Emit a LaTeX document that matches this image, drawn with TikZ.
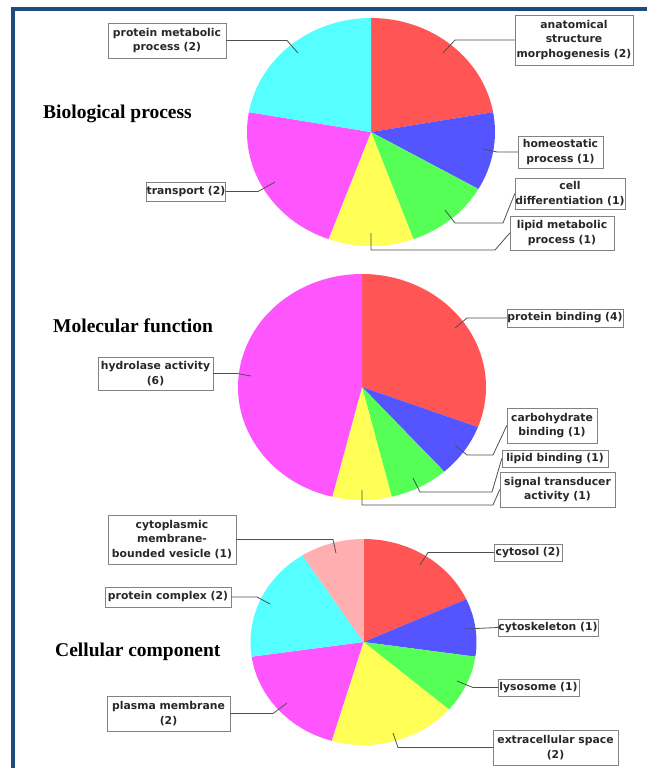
\documentclass[tikz,border=0pt]{standalone}
\usepackage{fontspec}
\setmainfont{Liberation Serif}
\newfontfamily\lblfont{DejaVu Sans}
\usetikzlibrary{shadows}
\definecolor{frameblue}{RGB}{30,75,125}
\definecolor{pRed}{HTML}{FF5555}
\definecolor{pBlue}{HTML}{5555FF}
\definecolor{pGreen}{HTML}{55FF55}
\definecolor{pYellow}{HTML}{FFFF55}
\definecolor{pMagenta}{HTML}{FF55FF}
\definecolor{pCyan}{HTML}{55FFFF}
\definecolor{pPink}{HTML}{FFAFAF}
\definecolor{boxgray}{RGB}{130,130,130}
\definecolor{lblgray}{RGB}{40,40,40}
\definecolor{leadgray}{RGB}{80,80,80}

\begin{document}
\begin{tikzpicture}[x=1pt,y=1pt,
    lbl/.style={draw=boxgray, fill=white, align=center, inner sep=0pt, text=lblgray,
        font=\lblfont\bfseries\fontsize{10.8}{14.5}\selectfont,
        drop shadow={shadow xshift=1pt, shadow yshift=-1pt, fill=black, opacity=0.3}},
    leader/.style={draw=leadgray, line width=0.8pt},
    ttl/.style={anchor=base west, inner sep=0pt, font=\bfseries\fontsize{19.5}{22}\selectfont}]
    \useasboundingbox (0,0) rectangle (647,-768);
    \fill[white] (0,0) rectangle (647,-768);
    \fill[frameblue] (11,-7) rectangle (647,-11);
    \fill[frameblue] (11,-7) rectangle (15,-768);

    % Biological process
    \def\rx{124}\def\ry{114}
    \coordinate (BP) at (371,-132);
    \foreach \a/\b/\c in {90/10/pRed,10/-30/pBlue,-30/-70/pGreen,-70/-110/pYellow,-110/-190/pMagenta,-190/-270/pCyan}{
        \fill[\c] (BP) -- +({\rx*cos(\a)},{\ry*sin(\a)}) arc[start angle=\a, end angle=\b, x radius=\rx, y radius=\ry] -- cycle;
    }
    \node[ttl] (bptitle) at (43,-118) {Biological process};
    \node[lbl, minimum width=118pt, minimum height=35pt] (pmp) at (167,-40.5) {protein metabolic\\process (2)};
    \node[lbl, minimum width=76pt, minimum height=19pt] (transp) at (186,-191.5) {transport (2)};
    \node[lbl, minimum width=118pt, minimum height=50pt] (anat) at (574,-40) {anatomical\\structure\\morphogenesis (2)};
    \node[lbl, minimum width=85pt, minimum height=32pt] (homeo) at (560.5,-152) {homeostatic\\process (1)};
    \node[lbl, minimum width=110pt, minimum height=31pt] (celldiff) at (570,-193.5) {cell\\differentiation (1)};
    \node[lbl, minimum width=104pt, minimum height=34pt] (lipmet) at (562,-233) {lipid metabolic\\process (1)};
    \coordinate (pmpP) at (298,-53);
    \coordinate (transpP) at (275,-182);
    \coordinate (anatP) at (443,-53);
    \coordinate (homeoP) at (483,-149);
    \coordinate (celldiffP) at (445,-210);
    \coordinate (lipmetP) at (371,-233);
    \draw[leader] (pmp.east) -- (287,-40.5) -- (pmpP);
    \draw[leader] (transp.east) -- (258,-191.5) -- (transpP);
    \draw[leader] (anat.west) -- (455,-40) -- (anatP);
    \draw[leader] (homeo.west) -- (497,-152) -- (homeoP);
    \draw[leader] (celldiff.west) -- (503,-223) -- (455,-223) -- (celldiffP);
    \draw[leader] (lipmet.west) -- (495,-250) -- (371,-250) -- (lipmetP);

    % Molecular function
    \def\rx{124}\def\ry{113}
    \coordinate (MF) at (362,-387);
    \foreach \a/\b/\c in {90/-20.769/pRed,-20.769/-48.462/pBlue,-48.462/-76.154/pGreen,-76.154/-103.846/pYellow,-103.846/-270/pMagenta}{
        \fill[\c] (MF) -- +({\rx*cos(\a)},{\ry*sin(\a)}) arc[start angle=\a, end angle=\b, x radius=\rx, y radius=\ry] -- cycle;
    }
    \node[ttl] (mftitle) at (53,-332) {Molecular function};
    \node[lbl, minimum width=115pt, minimum height=33pt] (hydro) at (155.5,-373.5) {hydrolase activity\\(6)};
    \node[lbl, minimum width=116pt, minimum height=18pt] (protbind) at (565,-318) {protein binding (4)};
    \node[lbl, minimum width=90pt, minimum height=35pt] (carb) at (552,-425.5) {carbohydrate\\binding (1)};
    \node[lbl, minimum width=106pt, minimum height=17pt] (lipbind) at (555,-458.5) {lipid binding (1)};
    \node[lbl, minimum width=115pt, minimum height=35pt] (signal) at (557.5,-489.5) {signal transducer\\activity (1)};
    \coordinate (hydroP) at (251,-376);
    \coordinate (protbindP) at (455,-328);
    \coordinate (carbP) at (455,-445);
    \coordinate (lipbindP) at (413,-478);
    \coordinate (signalP) at (362,-490);
    \draw[leader] (hydro.east) -- (237,-373.5) -- (hydroP);
    \draw[leader] (protbind.west) -- (467,-318) -- (protbindP);
    \draw[leader] (carb.west) -- (493,-455) -- (467,-455) -- (carbP);
    \draw[leader] (lipbind.west) -- (492,-492) -- (420,-492) -- (lipbindP);
    \draw[leader] (signal.west) -- (493,-505) -- (362,-505) -- (signalP);

    % Cellular component
    \def\rx{113}\def\ry{103}
    \coordinate (CC) at (363.5,-642);
    \foreach \a/\b/\c in {90/24.545/pRed,24.545/-8.182/pBlue,-8.182/-40.909/pGreen,-40.909/-106.364/pYellow,-106.364/-171.818/pMagenta,-171.818/-237.273/pCyan,-237.273/-270/pPink}{
        \fill[\c] (CC) -- +({\rx*cos(\a)},{\ry*sin(\a)}) arc[start angle=\a, end angle=\b, x radius=\rx, y radius=\ry] -- cycle;
    }
    \node[ttl] (cctitle) at (55,-656) {Cellular component};
    \node[lbl, minimum width=128pt, minimum height=49pt] (vesicle) at (172,-539.5) {cytoplasmic\\membrane-\\bounded vesicle (1)};
    \node[lbl, minimum width=126pt, minimum height=20pt] (protcomp) at (168,-597) {protein complex (2)};
    \node[lbl, minimum width=123pt, minimum height=35pt] (plasma) at (168.5,-713.5) {plasma membrane\\(2)};
    \node[lbl, minimum width=68pt, minimum height=17pt] (cytosol) at (528,-552.5) {cytosol (2)};
    \node[lbl, minimum width=100pt, minimum height=17pt] (cytoskel) at (548,-627.5) {cytoskeleton (1)};
    \node[lbl, minimum width=81pt, minimum height=17pt] (lyso) at (538.5,-687.5) {lysosome (1)};
    \node[lbl, minimum width=125pt, minimum height=35pt] (extra) at (555.5,-747.5) {extracellular space\\(2)};
    \coordinate (vesicleP) at (336,-553);
    \coordinate (protcompP) at (270,-604);
    \coordinate (plasmaP) at (287,-703);
    \coordinate (cytosolP) at (420,-565);
    \coordinate (cytoskelP) at (465,-629);
    \coordinate (lysoP) at (457,-681);
    \coordinate (extraP) at (393,-733);
    \draw[leader] (vesicle.east) -- (333,-539.5) -- (vesicleP);
    \draw[leader] (protcomp.east) -- (257,-597) -- (protcompP);
    \draw[leader] (plasma.east) -- (273,-713.5) -- (plasmaP);
    \draw[leader] (cytosol.west) -- (428,-552.5) -- (cytosolP);
    \draw[leader] (cytoskel.west) -- (cytoskelP);
    \draw[leader] (lyso.west) -- (473,-687.5) -- (lysoP);
    \draw[leader] (extra.west) -- (398,-747.5) -- (extraP);
\end{tikzpicture}
\end{document}
